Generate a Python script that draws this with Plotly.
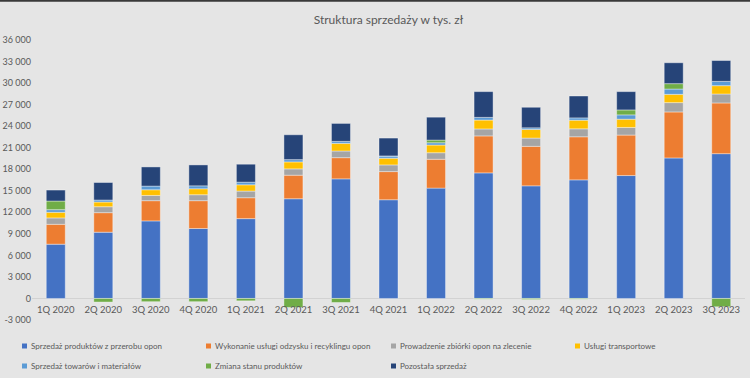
import plotly.graph_objects as go

categories = ["1Q 2020", "2Q 2020", "3Q 2020", "4Q 2020", "1Q 2021", "2Q 2021", "3Q 2021",
              "4Q 2021", "1Q 2022", "2Q 2022", "3Q 2022", "4Q 2022", "1Q 2023", "2Q 2023", "3Q 2023"]

sprzedaz_produktow = [7560, 9230, 10800, 9740, 11120, 13890, 16660, 13750, 15370, 17490, 15690, 16520, 17120, 19570, 20170]
uslugi_odzysku = [2770, 2720, 2820, 3880, 2910, 3280, 2950, 3920, 4020, 5150, 5500, 6000, 5640, 6410, 7060]
zbiorka_opon = [890, 830, 730, 830, 930, 880, 930, 930, 910, 970, 1150, 1110, 1060, 1300, 1250]
uslugi_transportowe = [780, 650, 790, 830, 870, 970, 1060, 930, 1070, 1240, 1200, 1200, 1150, 1150, 1160]
towary_materialy = [370, 280, 510, 410, 370, 320, 280, 320, 320, 370, 230, 320, 600, 740, 600]
zmiana_stanu = [1200, -500, -450, -450, -330, -1250, -560, 0, 370, -100, -150, -100, 690, 750, -1160]
pozostala = [1530, 2440, 2670, 2910, 2500, 3460, 2500, 2490, 3190, 3590, 2860, 3050, 2550, 2910, 2900]

series_names = ["Sprzedaż produktów z przerobu opon", "Wykonanie usługi odzysku i recyklingu opon",
                "Prowadzenie zbiórki opon na zlecenie", "Usługi transportowe",
                "Sprzedaż towarów i materiałów", "Zmiana stanu produktów", "Pozostała sprzedaż"]
series_values = [sprzedaz_produktow, uslugi_odzysku, zbiorka_opon, uslugi_transportowe,
                 towary_materialy, zmiana_stanu, pozostala]
series_colors = ["#4472C4", "#ED7D31", "#A5A5A5", "#FFC000", "#5B9BD5", "#70AD47", "#264478"]

y_ticks = list(range(-3000, 36001, 3000))
y_ticktext = [f"{v:,}".replace(",", " ") for v in y_ticks]

FONT = "Lato, 'Open Sans', sans-serif"
TXT = "#595959"
BG = "#e5e5e5"

W, H = 750, 378
ML, MR, MT, MB = 32, 5, 40, 58
PW, PH = W - ML - MR, H - MT - MB


def px_x(px):
    return (px - ML) / PW


def px_y(py):
    return (H - MB - py) / PH


fig = go.Figure()
for name, vals, col in zip(series_names, series_values, series_colors):
    fig.add_trace(go.Bar(
        x=categories, y=vals, name=name, showlegend=False,
        marker=dict(color=col, line=dict(color="rgba(255,255,255,0.55)", width=0.7)),
    ))

# legend laid out Excel-style: 4 columns, 2 rows
shapes = [dict(type="line", xref="paper", yref="paper", x0=px_x(0), x1=px_x(W),
               y0=px_y(0.8), y1=px_y(0.8), line=dict(color="#3a3a3a", width=2))]
annotations = []
col_x = [22, 206, 391, 575]
row_y = [346, 366]
for i, (name, col) in enumerate(zip(series_names, series_colors)):
    cx = col_x[i % 4]
    cy = row_y[i // 4]
    shapes.append(dict(type="rect", xref="paper", yref="paper",
                       x0=px_x(cx), x1=px_x(cx + 5), y0=px_y(cy - 2.5), y1=px_y(cy + 2.5),
                       fillcolor=col, line=dict(width=0)))
    annotations.append(dict(text=name, xref="paper", yref="paper", x=px_x(cx + 7), y=px_y(cy),
                            xanchor="left", yanchor="middle", showarrow=False,
                            font=dict(size=8, color=TXT, family=FONT)))

fig.update_layout(
    width=W, height=H,
    margin=dict(l=ML, r=MR, t=MT, b=MB),
    paper_bgcolor=BG, plot_bgcolor=BG,
    barmode="relative", bargap=0.6,
    showlegend=False,
    font=dict(family=FONT, color=TXT, size=9),
    title=dict(text="Struktura sprzedaży w tys. zł", x=0.5, xref="paper", xanchor="center",
               y=1 - 20 / H, yref="container", yanchor="middle",
               font=dict(size=12, color=TXT, family=FONT)),
    xaxis=dict(anchor="free", position=px_y(298.3), showline=False, ticks="",
               showgrid=False, automargin=False, ticklabelstandoff=4,
               tickfont=dict(size=9.5, color=TXT)),
    yaxis=dict(range=[-3000, 36000], tickvals=y_ticks, ticktext=y_ticktext, showgrid=False,
               zeroline=True, zerolinecolor="#d2d2d2", zerolinewidth=1, automargin=False,
               tickfont=dict(size=9, color=TXT), ticks=""),
    shapes=shapes,
    annotations=annotations,
)

fig.write_html(
    "out.html",
    config={"displayModeBar": False},
    post_script="document.body.style.margin='0';document.body.style.background='" + BG + "';",
)
